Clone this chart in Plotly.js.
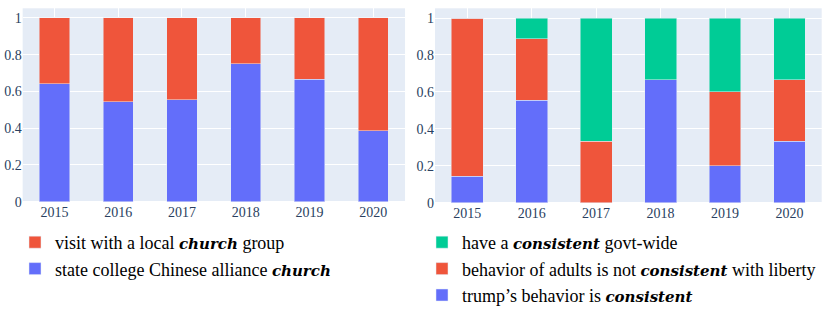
<!DOCTYPE html>
<html>
<head>
<meta charset="utf-8">
<script src="https://cdn.plot.ly/plotly-3.0.1.min.js"></script>
<style>html,body{margin:0;padding:0;background:#fff;}#chart{width:830px;height:312px;}</style>
</head>
<body>
<div id="chart"></div>
<script>
// ---- data ----
const years = ['2015', '2016', '2017', '2018', '2019', '2020'];

const EMPH = 'font-size:15px;font-family:DejaVu Serif;font-weight:bold;font-style:italic';

// left chart ("church")
const churchLabels = [
  'state college Chinese alliance <span style="' + EMPH + '">church</span>',
  'visit with a local <span style="' + EMPH + '">church</span> group'
];
const churchAlliance = [0.643, 0.545, 0.556, 0.75, 0.667, 0.385];
const churchLocal    = [0.357, 0.455, 0.444, 0.25, 0.333, 0.615];

// right chart ("consistent")
const consistentLabels = [
  'trump\u2019s behavior is <span style="' + EMPH + '">consistent</span>',
  'behavior of adults is not <span style="' + EMPH + '">consistent</span> with liberty',
  'have a <span style="' + EMPH + '">consistent</span> govt-wide'
];
const consTrump  = [0.143, 0.556, 0, 0.667, 0.2, 0.333];
const consAdults = [0.857, 0.333, 0.333, 0, 0.4, 0.333];
const consGovt   = [0, 0.111, 0.667, 0.333, 0.4, 0.334];

const BLUE = '#636efa', RED = '#EF553B', GREEN = '#00cc96';
const SERIF = 'Liberation Serif';

function bar(x, y, name, color, xa, ya, lg, w) {
  return {type: 'bar', x: x, y: y, name: name, xaxis: xa, yaxis: ya, legend: lg, width: w,
    marker: {color: color, line: {color: '#E5ECF6', width: 0.5}}};
}

const data = [
  bar(years, churchAlliance, churchLabels[0], BLUE, 'x', 'y', 'legend', 0.475),
  bar(years, churchLocal, churchLabels[1], RED, 'x', 'y', 'legend', 0.475),
  bar(years, consTrump, consistentLabels[0], BLUE, 'x2', 'y2', 'legend2', 0.495),
  bar(years, consAdults, consistentLabels[1], RED, 'x2', 'y2', 'legend2', 0.495),
  bar(years, consGovt, consistentLabels[2], GREEN, 'x2', 'y2', 'legend2', 0.495)
];

const axisCommon = {
  gridcolor: '#ffffff', zerolinecolor: '#ffffff', zerolinewidth: 2,
  tickfont: {family: SERIF, size: 14, color: '#2a3f5f'}, showline: false, ticks: ''
};

const layout = {
  width: 830, height: 312,
  margin: {l: 0, r: 0, t: 0, b: 0, autoexpand: false},
  paper_bgcolor: '#ffffff', plot_bgcolor: '#E5ECF6',
  barmode: 'stack',
  font: {family: SERIF, color: '#2a3f5f'},
  xaxis: Object.assign({}, axisCommon, {domain: [0.0273, 0.488], anchor: 'y', type: 'category'}),
  yaxis: Object.assign({}, axisCommon, {domain: [0.3535, 0.9734], anchor: 'x'}),
  xaxis2: Object.assign({}, axisCommon, {domain: [0.5241, 0.990], anchor: 'y2', type: 'category'}),
  yaxis2: Object.assign({}, axisCommon, {domain: [0.3503, 0.9734], anchor: 'x2'}),
  legend: {x: 15/830, y: 1 - 224/312, xanchor: 'left', yanchor: 'top', traceorder: 'reversed',
    bgcolor: 'rgba(0,0,0,0)', font: {family: SERIF, size: 18, color: '#000000'}},
  legend2: {x: 422/830, y: 1 - 224/312, xanchor: 'left', yanchor: 'top', traceorder: 'reversed',
    bgcolor: 'rgba(0,0,0,0)', font: {family: SERIF, size: 18, color: '#000000'}}
};

Plotly.newPlot('chart', data, layout, {displayModeBar: false, staticPlot: true});
</script>
</body>
</html>
